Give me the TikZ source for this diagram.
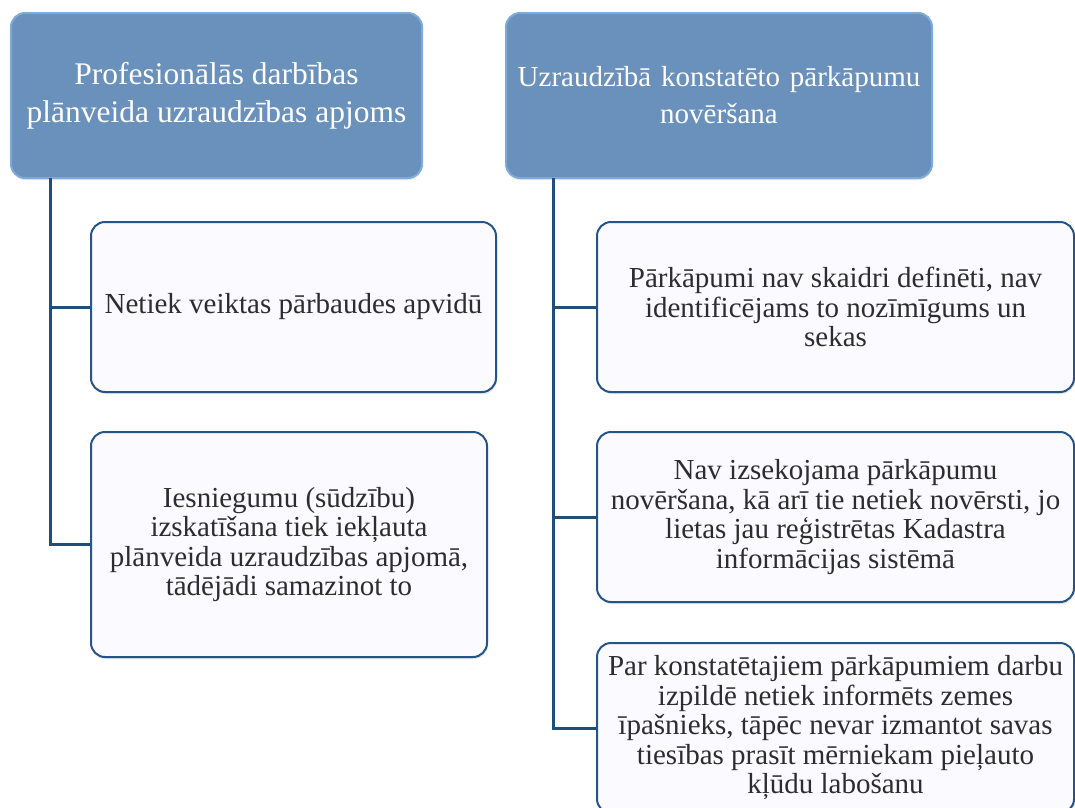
\documentclass[tikz,border=0pt]{standalone}
\usepackage{fontspec}
\setmainfont{Liberation Serif}
\usetikzlibrary{shadows}
\definecolor{hdrfill}{RGB}{106,144,188}
\definecolor{hdredge}{RGB}{125,170,220}
\definecolor{boxfill}{RGB}{251,250,254}
\definecolor{boxedge}{RGB}{38,84,136}
\definecolor{connclr}{RGB}{31,78,121}
\definecolor{txtclr}{RGB}{45,45,45}
\tikzset{
  hdrbox/.style={draw=hdredge, line width=2pt, fill=hdrfill, rounded corners=14pt,
    text=white, align=center, inner sep=0pt,
    font=\fontsize{31.5}{38}\selectfont,
    drop shadow={opacity=0.2, shadow xshift=0pt, shadow yshift=-2pt}},
  childbox/.style={draw=boxedge, line width=2pt, fill=boxfill, rounded corners=14pt,
    text=txtclr, align=center, inner sep=0pt,
    font=\fontsize{29}{29.5}\selectfont,
    drop shadow={opacity=0.2, shadow xshift=1pt, shadow yshift=-2pt}},
  conn/.style={draw=connclr, line width=3pt}
}
\begin{document}
\begin{tikzpicture}[x=1pt,y=-1pt]
\useasboundingbox (0,0) rectangle (1075,807);
\clip (0,0) rectangle (1075,807);
% headers
\node[hdrbox, minimum width=411pt, minimum height=165pt] (h1) at (216.5,95.5)
  {Profesionālās darbības\\plānveida uzraudzības apjoms};
\node[hdrbox, minimum width=426pt, minimum height=165pt, text width=420pt,
  font=\fontsize{29}{37}\selectfont] (h2) at (719,95.5)
  {Uzraudzībā konstatēto pārkāpumu\\novēršana};
% left children
\node[childbox, minimum width=405pt, minimum height=170pt] (c1) at (293.5,307)
  {Netiek veiktas pārbaudes apvidū};
\node[childbox, minimum width=396pt, minimum height=225pt] (c2) at (289,544.5)
  {Iesniegumu (sūdzību)\\izskatīšana tiek iekļauta\\plānveida uzraudzības apjomā,\\tādējādi samazinot to};
% right children
\node[childbox, minimum width=477pt, minimum height=170pt] (r1) at (835.5,307)
  {Pārkāpumi nav skaidri definēti, nav\\identificējams to nozīmīgums un\\sekas};
\node[childbox, minimum width=477pt, minimum height=170pt] (r2) at (835.5,517)
  {Nav izsekojama pārkāpumu\\novēršana, kā arī tie netiek novērsti, jo\\lietas jau reģistrētas Kadastra\\informācijas sistēmā};
\node[childbox, minimum width=477pt, minimum height=170pt] (r3) at (835.5,728)
  {Par konstatētajiem pārkāpumiem darbu\\izpildē netiek informēts zemes\\īpašnieks, tāpēc nevar izmantot savas\\tiesības prasīt mērniekam pieļauto\\kļūdu labošanu};
% connectors
\coordinate (h1s) at (50,178);
\coordinate (h2s) at (553,178);
\draw[conn] (h1s) |- (c1.west);
\draw[conn] (h1s) |- (c2.west);
\draw[conn] (h2s) |- (r1.west);
\draw[conn] (h2s) |- (r2.west);
\draw[conn] (h2s) |- (r3.west);
\end{tikzpicture}
\end{document}
